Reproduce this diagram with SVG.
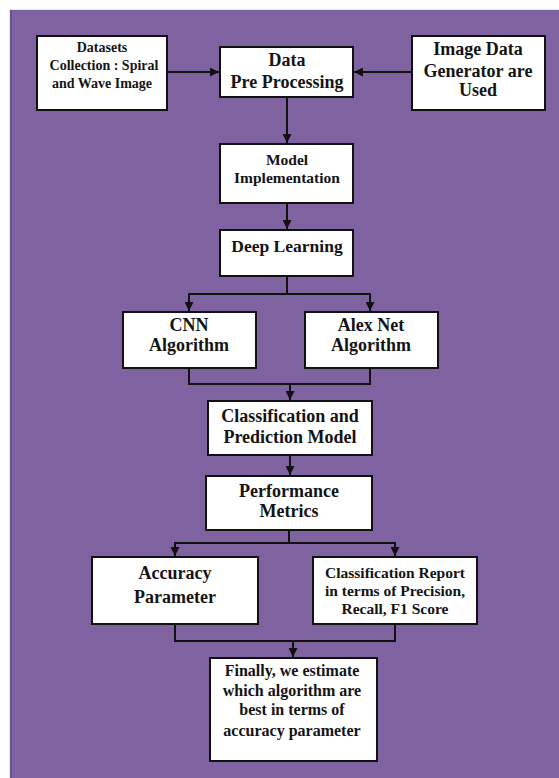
<svg xmlns="http://www.w3.org/2000/svg" width="559" height="778" viewBox="0 0 559 778">
<defs>
<style>
.box{fill:#ffffff;stroke:#111111;stroke-width:2}
.t{font-family:'Liberation Serif','Times New Roman',serif;font-weight:bold;fill:#141414;text-anchor:middle}
.c{fill:none;stroke:#111111;stroke-width:2}
</style>
<marker id="ah" viewBox="0 0 10 10" refX="10" refY="5" markerWidth="4.5" markerHeight="4.5" orient="auto" markerUnits="strokeWidth">
<path d="M0,0 L10,5 L0,10 Z" fill="#111111"/>
</marker>
</defs>
<rect x="0" y="0" width="559" height="778" fill="#ffffff"/>
<rect x="9" y="9" width="550" height="769" fill="#e4e4e4"/>
<rect x="10" y="10" width="549" height="768" fill="#7e63a0"/>
<rect x="10" y="10" width="2" height="768" fill="#6c5190"/>

<g id="connectors">
<path class="c" d="M167,72 H219" marker-end="url(#ah)"/>
<path class="c" d="M412,72 H354" marker-end="url(#ah)"/>
<path class="c" d="M287,97 V143" marker-end="url(#ah)"/>
<path class="c" d="M287,203 V229" marker-end="url(#ah)"/>
<path class="c" d="M287,276 V294"/>
<path class="c" d="M189,294 H370"/>
<path class="c" d="M189,293 V311" marker-end="url(#ah)"/>
<path class="c" d="M370,293 V311" marker-end="url(#ah)"/>
<path class="c" d="M189,368 V384 H370 V368"/>
<path class="c" d="M290,384 V400" marker-end="url(#ah)"/>
<path class="c" d="M290,455 V475" marker-end="url(#ah)"/>
<path class="c" d="M289,530 V543"/>
<path class="c" d="M175,543 H395"/>
<path class="c" d="M175,542 V556" marker-end="url(#ah)"/>
<path class="c" d="M395,542 V556" marker-end="url(#ah)"/>
<path class="c" d="M175,624 V641 H395 V624"/>
<path class="c" d="M293,641 V657" marker-end="url(#ah)"/>
</g>

<g id="datasets">
<rect class="box" x="37" y="36" width="130" height="74"/>
<text class="t" font-size="14" x="102" y="51.5">Datasets</text>
<text class="t" font-size="14" x="104" y="69.5">Collection : Spiral</text>
<text class="t" font-size="14" x="102" y="87.5">and Wave Image</text>
</g>

<g id="preprocessing">
<rect class="box" x="220" y="47" width="133" height="50"/>
<text class="t" font-size="18" x="287" y="66">Data</text>
<text class="t" font-size="18" x="287" y="88">Pre Processing</text>
</g>

<g id="generator">
<rect class="box" x="412" y="36" width="133" height="74"/>
<text class="t" font-size="18" x="478" y="55">Image Data</text>
<text class="t" font-size="18" x="478" y="77">Generator are</text>
<text class="t" font-size="18" x="478" y="96">Used</text>
</g>

<g id="model">
<rect class="box" x="220" y="144" width="133" height="59"/>
<text class="t" font-size="15.5" x="287" y="164.5">Model</text>
<text class="t" font-size="15.5" x="287" y="182.5">Implementation</text>
</g>

<g id="deeplearning">
<rect class="box" x="220" y="230" width="133" height="46"/>
<text class="t" font-size="17.5" x="287" y="252">Deep Learning</text>
</g>

<g id="cnn">
<rect class="box" x="123" y="312" width="133" height="56"/>
<text class="t" font-size="18" x="189" y="331">CNN</text>
<text class="t" font-size="18" x="189" y="351">Algorithm</text>
</g>

<g id="alexnet">
<rect class="box" x="305" y="312" width="133" height="56"/>
<text class="t" font-size="18" x="371" y="331">Alex Net</text>
<text class="t" font-size="18" x="371" y="351">Algorithm</text>
</g>

<g id="classification">
<rect class="box" x="208" y="401" width="164" height="54"/>
<text class="t" font-size="18" x="290" y="422">Classification and</text>
<text class="t" font-size="18" x="290" y="443">Prediction Model</text>
</g>

<g id="performance">
<rect class="box" x="206" y="476" width="166" height="54"/>
<text class="t" font-size="18" x="289" y="497">Performance</text>
<text class="t" font-size="18" x="289" y="517">Metrics</text>
</g>

<g id="accuracy">
<rect class="box" x="92" y="557" width="166" height="67"/>
<text class="t" font-size="18" x="175" y="579">Accuracy</text>
<text class="t" font-size="18" x="175" y="603">Parameter</text>
</g>

<g id="report">
<rect class="box" x="313" y="557" width="164" height="67"/>
<text class="t" font-size="15.5" x="395" y="577.5">Classification Report</text>
<text class="t" font-size="15.5" x="395" y="596">in terms of Precision,</text>
<text class="t" font-size="15.5" x="395" y="614">Recall, F1 Score</text>
</g>

<g id="final">
<rect class="box" x="210" y="658" width="167" height="103"/>
<text class="t" font-size="16" x="292" y="675.5">Finally, we estimate</text>
<text class="t" font-size="16" x="292" y="695.5">which algorithm are</text>
<text class="t" font-size="16" x="292" y="714.5">best in terms of</text>
<text class="t" font-size="16" x="292" y="735.5">accuracy parameter</text>
</g>
</svg>
